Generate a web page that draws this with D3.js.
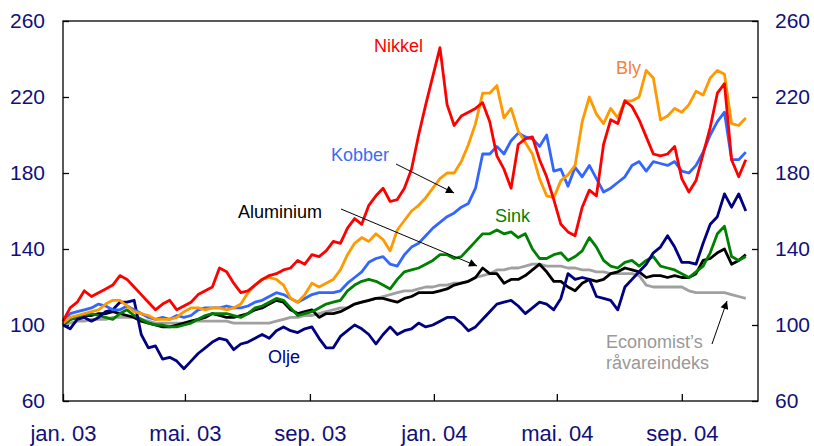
<!DOCTYPE html>
<html>
<head>
<meta charset="utf-8">
<script src="https://cdn.jsdelivr.net/npm/d3@7"></script>
<style>
  body { margin: 0; background: #fff; }
  svg { display: block; font-family: "Liberation Sans", Arial, sans-serif; }
</style>
</head>
<body>
<svg id="chart" width="814" height="446"></svg>
<script>
// weekly observations, index jan. 2003 = 100
var startDate = new Date(2003, 0, 1);

var nikkel = [102,109,112,118,115,117,119,121,126,124,
    120,116,112,108,111,113,108,110,112,116,
    118,120,130,128,122,117,118,121,124,126,
    127,129,130,134,132,137,136,139,144,143,
    151,156,153,163,168,172,165,166,172,182,
    200,216,231,246,216,205,210,212,214,217,
    207,189,182,172,195,198,199,187,178,166,
    153,149,147,162,171,168,195,208,206,218,
    215,208,199,190,189,190,194,177,170,176,
    190,204,222,227,187,178,187];

var bly = [101,104,105,106,107,108,111,113,113,110,
    107,106,105,103,103,103,104,107,109,109,
    108,109,109,108,109,111,117,121,124,125,
    124,121,114,112,116,122,120,122,124,129,
    137,143,146,144,148,145,139,150,155,160,
    163,167,172,177,180,180,186,195,206,222,
    222,226,209,214,202,196,190,177,168,167,
    176,179,184,207,220,211,206,214,209,218,
    218,220,234,230,208,210,214,212,216,223,
    221,230,234,232,206,205,209];

var kobber = [101,106,107,108,109,111,110,108,108,110,
    108,106,104,103,104,103,105,104,105,108,
    109,109,109,110,109,109,110,112,113,115,
    117,116,114,112,114,116,117,117,117,118,
    122,125,128,133,135,136,132,131,137,141,
    143,147,151,154,157,159,162,164,172,190,
    190,194,190,197,201,199,198,194,200,181,
    182,173,183,178,184,177,170,172,175,178,
    184,186,181,186,185,184,186,181,180,184,
    191,200,207,212,187,187,191];

var sink = [100,103,104,105,106,105,104,103,106,108,
    105,103,101,100,100,99,99,100,101,103,
    105,106,106,106,105,104,106,109,110,112,
    114,113,109,105,106,107,109,111,112,113,
    118,121,123,124,123,121,119,124,128,129,
    130,132,134,137,137,135,136,140,144,148,
    148,150,148,149,146,148,140,135,135,137,
    138,134,136,139,146,141,134,131,130,133,
    134,131,134,136,131,130,129,127,125,128,
    131,138,148,152,136,134,136];

var aluminium = [100,103,104,105,105,106,106,107,106,105,
    104,102,101,100,99,99,100,101,102,103,
    104,106,105,104,104,105,106,108,109,111,
    113,112,108,106,107,108,104,106,106,107,
    109,111,112,113,114,114,113,112,114,115,
    117,117,117,118,119,121,122,123,125,130,
    127,127,122,124,124,126,129,132,128,123,
    123,120,118,122,124,123,124,127,128,130,
    129,128,125,126,126,125,126,125,125,127,
    134,135,138,140,132,134,137];

var economist = [100,101,102,102,103,103,103,104,104,104,
    104,103,102,101,101,101,101,101,102,102,
    102,102,102,102,101,101,101,101,101,101,
    102,103,104,104,105,105,106,107,108,109,
    109,111,112,113,114,115,116,117,118,118,
    119,120,120,121,121,122,122,123,125,126,
    127,129,129,130,130,131,132,132,131,131,
    131,130,130,129,129,128,128,127,127,127,
    127,126,121,120,120,120,120,120,118,117,
    117,117,117,117,116,115,114];

var olje = [100,98,103,104,102,104,107,108,112,112,
    113,95,88,89,82,83,81,77,81,85,
    88,91,93,92,87,90,91,93,95,93,
    97,99,97,96,98,99,93,88,88,94,
    97,100,98,95,90,95,99,95,97,98,
    101,99,100,102,104,104,101,97,99,103,
    107,111,112,113,110,106,109,112,111,108,
    114,127,124,125,124,115,114,113,108,120,
    124,128,132,138,141,147,141,133,133,132,
    143,153,157,169,162,169,160];

var yTicks = [60, 100, 140, 180, 220, 260];
var xTickDates = [new Date(2003,0,1), new Date(2003,4,1), new Date(2003,8,1),
                  new Date(2004,0,1), new Date(2004,4,1), new Date(2004,8,1)];
var xTickLabels = ["jan. 03", "mai. 03", "sep. 03", "jan. 04", "mai. 04", "sep. 04"];

var dates = nikkel.map(function(d, i) { return d3.timeDay.offset(startDate, 7 * i); });

var series = [
    {key: "Economist", values: economist, color: "#a0a0a0"},
    {key: "Aluminium", values: aluminium, color: "#000000"},
    {key: "Sink", values: sink, color: "#008000"},
    {key: "Olje", values: olje, color: "#000080"},
    {key: "Kobber", values: kobber, color: "#3366ff"},
    {key: "Bly", values: bly, color: "#ff9900"},
    {key: "Nikkel", values: nikkel, color: "#ff0000"}
];

var svg = d3.select("#chart"),
    margin = {top: 21, right: 56, bottom: 45, left: 63},
    width = +svg.attr("width") - margin.left - margin.right,
    height = +svg.attr("height") - margin.top - margin.bottom,
    g = svg.append("g").attr("transform", "translate(" + margin.left + "," + margin.top + ")");

var x = d3.scaleTime()
    .domain([new Date(2003, 0, 1), new Date(2004, 10, 15)])
    .range([0, width]);

var y = d3.scaleLinear()
    .domain([60, 260])
    .range([height, 0]);

var axisColor = "#10107a";

// axes
var xAxis = g.append("g")
    .attr("transform", "translate(0," + height + ")")
    .call(d3.axisBottom(x).tickValues(xTickDates)
        .tickFormat(function(d, i) { return xTickLabels[i]; })
        .tickSizeInner(-7).tickSizeOuter(0).tickPadding(24));
xAxis.select(".domain").remove();
xAxis.selectAll("text").attr("fill", axisColor).style("font-size", "22px");
xAxis.selectAll("line").attr("stroke", "#000").attr("stroke-width", 1.3);

var yLeft = g.append("g")
    .call(d3.axisLeft(y).tickValues(yTicks).tickSizeInner(-6).tickSizeOuter(0).tickPadding(18));
yLeft.select(".domain").remove();
yLeft.selectAll("text").attr("fill", axisColor).style("font-size", "21px");
yLeft.selectAll("line").attr("stroke", "#000").attr("stroke-width", 1.3);

var yRight = g.append("g")
    .attr("transform", "translate(" + width + ",0)")
    .call(d3.axisRight(y).tickValues(yTicks).tickSizeInner(-6).tickSizeOuter(0).tickPadding(17));
yRight.select(".domain").remove();
yRight.selectAll("text").attr("fill", axisColor).style("font-size", "21px");
yRight.selectAll("line").attr("stroke", "#000").attr("stroke-width", 1.3);

// lines
var line = d3.line()
    .x(function(d, i) { return x(dates[i]); })
    .y(function(d) { return y(d); });

g.selectAll(".serie")
    .data(series)
    .enter().append("path")
    .attr("class", "serie")
    .attr("fill", "none")
    .attr("stroke", function(d) { return d.color; })
    .attr("stroke-width", 2.8)
    .attr("stroke-linejoin", "round")
    .attr("d", function(d) { return line(d.values); });

// frame
g.append("rect")
    .attr("width", width)
    .attr("height", height)
    .attr("fill", "none")
    .attr("stroke", "#000")
    .attr("stroke-width", 1.3);

// labels
svg.append("defs").append("marker")
    .attr("id", "arrow")
    .attr("viewBox", "0 0 10 10")
    .attr("refX", 10)
    .attr("refY", 5)
    .attr("markerWidth", 11)
    .attr("markerHeight", 8)
    .attr("markerUnits", "userSpaceOnUse")
    .attr("orient", "auto")
    .append("path")
    .attr("d", "M0,0L10,5L0,10z")
    .attr("fill", "#000");

var labels = [
    {text: "Nikkel", x: 374, y: 52, color: "#ff0000"},
    {text: "Kobber", x: 331, y: 161, color: "#3a6cf5"},
    {text: "Bly", x: 616, y: 74, color: "#f5823c"},
    {text: "Aluminium", x: 238, y: 218, color: "#000000"},
    {text: "Sink", x: 495, y: 222, color: "#008000"},
    {text: "Olje", x: 268, y: 363, color: "#000080"},
    {text: "Economist\u2019s", x: 606, y: 348, color: "#999999"},
    {text: "r\u00e5vareindeks", x: 606, y: 369, color: "#999999"}
];

svg.selectAll(".label")
    .data(labels)
    .enter().append("text")
    .attr("class", "label")
    .attr("x", function(d) { return d.x; })
    .attr("y", function(d) { return d.y; })
    .attr("fill", function(d) { return d.color; })
    .style("font-size", "18px")
    .text(function(d) { return d.text; });

var arrows = [
    [396, 164, 454, 193],
    [341, 209, 477, 266],
    [712, 344, 727, 301]
];

svg.selectAll(".arrow")
    .data(arrows)
    .enter().append("line")
    .attr("class", "arrow")
    .attr("x1", function(d) { return d[0]; })
    .attr("y1", function(d) { return d[1]; })
    .attr("x2", function(d) { return d[2]; })
    .attr("y2", function(d) { return d[3]; })
    .attr("stroke", "#000")
    .attr("stroke-width", 1)
    .attr("marker-end", "url(#arrow)");
</script>
</body>
</html>
